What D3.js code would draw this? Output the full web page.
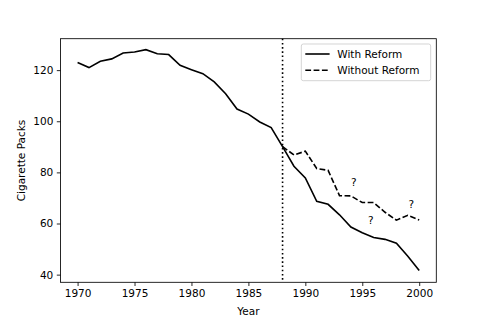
<!DOCTYPE html>
<html>
<head>
<meta charset="utf-8">
<script src="https://cdn.jsdelivr.net/npm/d3@7"></script>
<style>
  body { margin: 0; background: #fff; }
  text { font-family: "DejaVu Sans", sans-serif; }
</style>
</head>
<body>
<div id="chart"></div>
<script>
// data
const years = d3.range(1970, 2001)
const withReform = [123.0, 121.0, 123.5, 124.4, 126.7, 127.1, 128.0, 126.4, 126.1, 121.9,
  120.2, 118.6, 115.4, 110.8, 104.8, 102.8, 99.7, 97.5, 90.1, 82.4,
  77.8, 68.7, 67.5, 63.4, 58.6, 56.4, 54.5, 53.8, 52.3, 47.2, 41.6]
const withoutYears = d3.range(1988, 2001)
const withoutReform = [90.1, 86.8, 88.3, 81.5, 80.8, 70.9, 70.8, 68.2, 68.2, 64.4, 61.3, 63.2, 61.4]
const reformYear = 1988
const marks = [ // question marks
  { year: 1994.25, value: 76.4 },
  { year: 1995.75, value: 61.3 },
  { year: 1999.3, value: 67.8 }
]
const xTicks = [1970, 1975, 1980, 1985, 1990, 1995, 2000]
const yTicks = [40, 60, 80, 100, 120]
const seriesNames = ["With Reform", "Without Reform"]

const W = 485, H = 323
const margin = { left: 60.5, right: 48.7, top: 38.7, bottom: 40.7 }
const width = W - margin.left - margin.right
const height = H - margin.top - margin.bottom

const svg = d3.select("#chart").append("svg")
  .attr("width", W)
  .attr("height", H)

const g = svg.append("g")
  .attr("transform", "translate(" + margin.left + "," + margin.top + ")")

const x = d3.scaleLinear().domain([1968.5, 2001.5]).range([0, width])
const y = d3.scaleLinear().domain([37.0, 132.3]).range([height, 0])

// axes
const xAxis = g.append("g")
  .attr("transform", "translate(0," + height + ")")
  .call(d3.axisBottom(x).tickValues(xTicks).tickFormat(d3.format("d")).tickSize(3.7).tickPadding(3.5))
const yAxis = g.append("g")
  .call(d3.axisLeft(y).tickValues(yTicks).tickSize(3.7).tickPadding(3.5))

for (const ax of [xAxis, yAxis]) {
  ax.select(".domain").remove()
  ax.selectAll("line").attr("stroke", "#000").attr("stroke-width", 0.85)
  ax.selectAll("text").attr("fill", "#000").style("font-size", "10.5px")
}

// frame
g.append("rect")
  .attr("width", width)
  .attr("height", height)
  .attr("fill", "none")
  .attr("stroke", "#000")
  .attr("stroke-width", 0.85)

// reform line
g.append("line")
  .attr("x1", x(reformYear)).attr("x2", x(reformYear))
  .attr("y1", 0).attr("y2", height)
  .attr("stroke", "#000")
  .attr("stroke-width", 1.6)
  .attr("stroke-dasharray", "1.6,2.6")

const line = d3.line()
  .x((d) => x(d[0]))
  .y((d) => y(d[1]))

g.append("path")
  .datum(years.map((yr, i) => [yr, withReform[i]]))
  .attr("d", line)
  .attr("fill", "none")
  .attr("stroke", "#000")
  .attr("stroke-width", 1.6)

g.append("path")
  .datum(withoutYears.map((yr, i) => [yr, withoutReform[i]]))
  .attr("d", line)
  .attr("fill", "none")
  .attr("stroke", "#000")
  .attr("stroke-width", 1.6)
  .attr("stroke-dasharray", "5.8,2.5")

g.selectAll(".qmark").data(marks).enter()
  .append("text")
  .attr("class", "qmark")
  .attr("x", (d) => x(d.year))
  .attr("y", (d) => y(d.value))
  .attr("text-anchor", "middle")
  .attr("dominant-baseline", "central")
  .style("font-size", "10.5px")
  .attr("fill", "#000")
  .text("?")

// axis labels
svg.append("text")
  .attr("x", margin.left + width / 2)
  .attr("y", 315)
  .attr("text-anchor", "middle")
  .style("font-size", "10.5px")
  .text("Year")

svg.append("text")
  .attr("transform", "translate(25," + (margin.top + height / 2) + ") rotate(-90)")
  .attr("text-anchor", "middle")
  .style("font-size", "10.5px")
  .text("Cigarette Packs")

// legend
const legend = g.append("g")
  .attr("transform", "translate(" + (width - 135) + "," + 5.3 + ")")
legend.append("rect")
  .attr("width", 129.4)
  .attr("height", 36.7)
  .attr("rx", 2)
  .attr("fill", "#fff")
  .attr("fill-opacity", 0.8)
  .attr("stroke", "#ccc")
  .attr("stroke-width", 0.85)

seriesNames.forEach((name, i) => {
  const ly = 10 + i * 16.3
  legend.append("line")
    .attr("x1", 4).attr("x2", 28.3)
    .attr("y1", ly).attr("y2", ly)
    .attr("stroke", "#000")
    .attr("stroke-width", 1.6)
    .attr("stroke-dasharray", i === 1 ? "5.8,2.5" : null)
  legend.append("text")
    .attr("x", 36)
    .attr("y", ly)
    .attr("dominant-baseline", "central")
    .style("font-size", "10.5px")
    .text(name)
})
</script>
</body>
</html>
